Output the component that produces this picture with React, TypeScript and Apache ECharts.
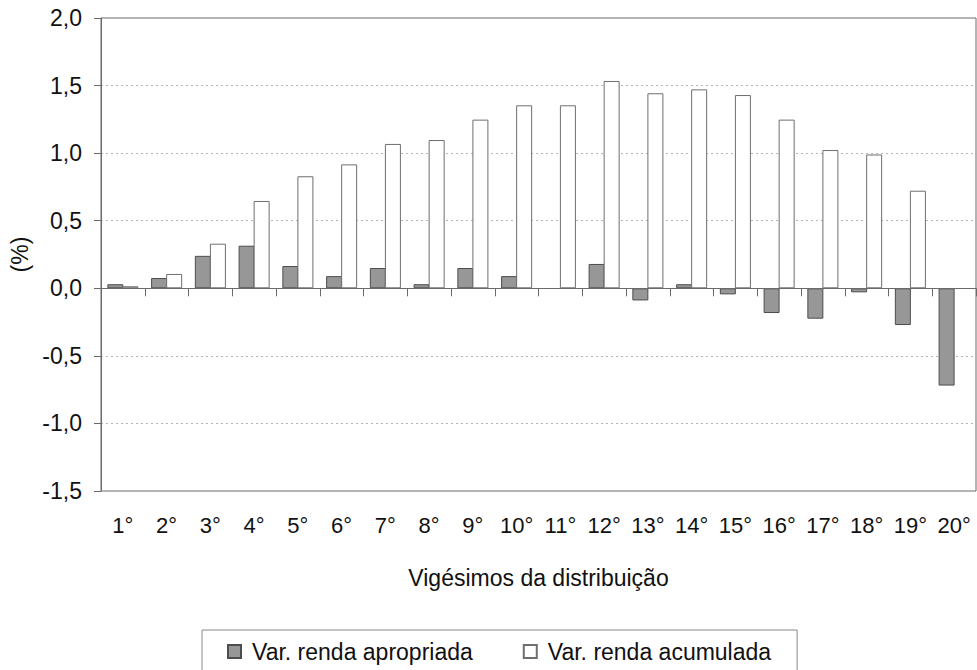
import React, { useEffect, useRef } from "react";
import * as echarts from "echarts";

const categories = ["1°","2°","3°","4°","5°","6°","7°","8°","9°","10°","11°","12°","13°","14°","15°","16°","17°","18°","19°","20°"];
const apropriada = [0.03, 0.076, 0.24, 0.315, 0.165, 0.09, 0.15, 0.03, 0.15, 0.09, null, 0.18, -0.09, 0.03, -0.045, -0.183, -0.225, -0.03, -0.272, -0.72];
const acumulada = [0.015, 0.106, 0.33, 0.646, 0.829, 0.917, 1.068, 1.097, 1.248, 1.354, 1.354, 1.534, 1.443, 1.472, 1.43, 1.248, 1.023, 0.99, 0.722, null];
const seriesNames = ["Var. renda apropriada", "Var. renda acumulada"];
const yTitle = "(%)";
const xTitle = "Vigésimos da distribuição";

const FONT = "'Liberation Sans', Arial, sans-serif";
const TXT = "#111111";
const AXIS = "#6a6a6a";

export default function App() {
  const ref = useRef<HTMLDivElement>(null);
  useEffect(() => {
    if (!ref.current) return;
    const chart = echarts.init(ref.current, undefined, { renderer: "svg" });
    chart.setOption({
      animation: false,
      backgroundColor: "#ffffff",
      textStyle: { fontFamily: FONT, color: TXT },
      grid: {
        left: 101, right: 1, top: 18, bottom: 179,
        show: true, borderColor: AXIS, borderWidth: 1, containLabel: false,
      },
      legend: {
        data: seriesNames,
        icon: "rect",
        left: 202, top: 630,
        itemWidth: 13, itemHeight: 13, itemGap: 50,
        padding: [10, 26, 12, 25],
        borderColor: "#888", borderWidth: 1,
        textStyle: { fontFamily: FONT, fontSize: 23, color: TXT, padding: [0, 0, 0, 6] },
      },
      xAxis: [
        {
          type: "category",
          data: categories,
          position: "bottom",
          axisLine: { show: true, onZero: true, lineStyle: { color: AXIS, width: 1 } },
          axisTick: { show: true, alignWithLabel: false, length: 8, lineStyle: { color: AXIS } },
          axisLabel: { show: false },
          z: 5,
        },
        {
          type: "category",
          data: categories,
          position: "bottom",
          axisLine: { show: false, onZero: false },
          axisTick: { show: false },
          axisLabel: { fontFamily: FONT, fontSize: 22, color: TXT, margin: 23, interval: 0 },
          name: xTitle,
          nameLocation: "middle",
          nameGap: 75,
          nameTextStyle: { fontFamily: FONT, fontSize: 23, color: TXT },
        },
      ],
      yAxis: {
        type: "value",
        min: -1.5, max: 2.0, interval: 0.5,
        axisLine: { show: true, lineStyle: { color: AXIS } },
        axisTick: { show: true, length: 7, lineStyle: { color: AXIS } },
        axisLabel: {
          fontFamily: FONT, fontSize: 23, color: TXT, margin: 19,
          formatter: (v: number) => v.toFixed(1).replace(".", ","),
        },
        splitLine: { show: true, lineStyle: { color: "#b5b5b5", type: [2, 3], width: 1 } },
        name: yTitle,
        nameLocation: "middle",
        nameGap: 66,
        nameRotate: 90,
        nameTextStyle: { fontFamily: FONT, fontSize: 23, color: TXT },
      },
      series: [
        {
          name: seriesNames[0],
          type: "bar",
          xAxisIndex: 0,
          data: apropriada,
          barWidth: 16,
          barGap: "-6%",
          itemStyle: { color: "#979797", borderColor: "#4d4d4d", borderWidth: 1 },
        },
        {
          name: seriesNames[1],
          type: "bar",
          xAxisIndex: 0,
          data: acumulada,
          barWidth: 16,
          barGap: "-6%",
          itemStyle: { color: "#ffffff", borderColor: "#6e6e6e", borderWidth: 1 },
        },
      ],
    });
    return () => chart.dispose();
  }, []);
  return (
    <div
      ref={ref}
      style={{ position: "fixed", left: 0, top: 0, width: 977, height: 670, background: "#fff" }}
    />
  );
}
